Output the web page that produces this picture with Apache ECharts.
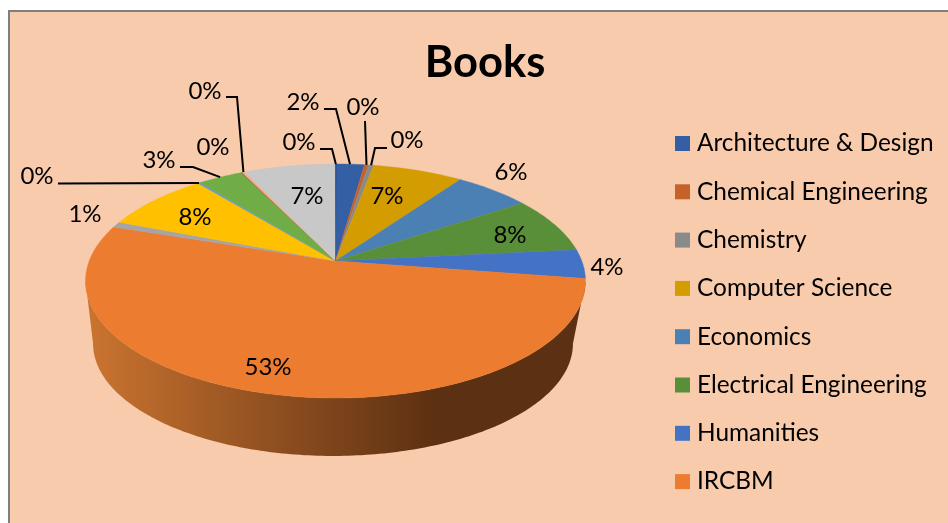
<!DOCTYPE html>
<html>
<head>
<meta charset="utf-8">
<title>Books</title>
<script src="https://cdn.jsdelivr.net/npm/echarts@6/dist/echarts.min.js"></script>
<style>
html, body { margin: 0; padding: 0; background: #fff; }
#chart { width: 948px; height: 523px; }
</style>
</head>
<body>
<div id="chart"></div>
<script>
// only the first 8 categories are visible in the legend, the rest are cut off in the picture
const legendNames = ['Architecture & Design', 'Chemical Engineering', 'Chemistry', 'Computer Science',
  'Economics', 'Electrical Engineering', 'Humanities', 'IRCBM'];
const sliceNames = legendNames.concat(['slice 9', 'slice 10', 'slice 11', 'slice 12', 'slice 13', 'slice 14', 'slice 15', 'slice 16']);
// share of books in percent, clockwise from 12 o'clock
const bookShares = [2.2, 0.3, 0.4, 6.9, 5.8, 7.8, 4.0, 52.7, 0.8, 8.2, 0.2, 3.4, 0.1, 0.2, 7.0, 0.05];
const sliceColors = ['#355FA5', '#C5622A', '#8A8A8A', '#D39C00', '#4A80B4', '#5A8F3A', '#4472C4', '#EC7C30',
  '#A5A5A5', '#FFC000', '#5B9BD5', '#70AD47', '#9E6A3A', '#F0B090', '#C8C8C8', '#264478'];

// label centre, then the leader line points before it reaches the rim
const labelLayout = [
  { at: [303, 102], leader: [[324, 109], [336, 109]] },
  { at: [363, 107], leader: [[365, 121]] },
  { at: [407, 140], leader: [[387, 148], [375, 148]] },
  { at: [387, 196] },
  { at: [511, 172] },
  { at: [510, 235] },
  { at: [607, 267] },
  { at: [268, 367] },
  { at: [85, 214] },
  { at: [195, 217] },
  { at: [37, 176], leader: [[58, 183.5]] },
  { at: [159, 160], leader: [[180, 167], [193, 167]] },
  { at: [213, 147] },
  { at: [205, 91], leader: [[226, 97], [237, 97]] },
  { at: [307, 196] },
  { at: [299, 142], leader: [[320, 149], [332, 149]] },
];

// the pie is a circle seen in perspective, so its centre is above the middle of the ellipse
const tilt = 0.1708;
const topRim = { cx: 335.5, cy: 261, a: 246.3, b: 113.6 };
const bottomRim = { cx: 333, cy: 324.5, a: 236.4, b: 109 };
const fontName = 'Lato';
// where the rim turns away from the viewer, the side wall runs between these two
const wallStart = Math.acos(-tilt) / (Math.PI * 2) * 100;
const wallEnd = 100 - wallStart;

function rimPoint(pct, rim) {
  const th = pct / 100 * Math.PI * 2;
  const w = 1 + tilt * Math.cos(th);
  return [rim.cx + rim.a * Math.sin(th) / w, rim.cy - rim.b * Math.cos(th) / w];
}

function arcPoints(from, to, rim) {
  const pts = [];
  const steps = Math.max(2, Math.ceil((to - from) * 4));
  for (let i = 0; i <= steps; i++) {
    pts.push(rimPoint(from + (to - from) * i / steps, rim));
  }
  return pts;
}

let total = 0;
const sliceRanges = bookShares.map((v) => {
  const range = [total, total + v];
  total += v;
  return range;
});

const biggest = bookShares.indexOf(Math.max(...bookShares));

const sliceSeries = sliceNames.map((name, i) => ({
  type: 'custom',
  name,
  coordinateSystem: 'none',
  z: 3,
  itemStyle: { color: sliceColors[i] },
  data: [sliceRanges[i]],
  renderItem(params, api) {
    const pts = [[topRim.cx, topRim.cy]].concat(arcPoints(api.value(0), api.value(1), topRim));
    return {
      type: 'polygon',
      shape: { points: pts },
      style: { fill: sliceColors[i], stroke: sliceColors[i], lineWidth: 0.4 },
    };
  },
}));

const option = {
  animation: false,
  backgroundColor: '#fff',
  graphic: [{
    type: 'rect',
    z: -1,
    silent: true,
    shape: { x: 9, y: 11, width: 960, height: 540 },
    style: { fill: '#F8CBAD', stroke: '#7F7F7F', lineWidth: 2 },
  }],
  title: {
    text: 'Books',
    left: 480,
    top: 36,
    textAlign: 'center',
    textStyle: { fontFamily: fontName, fontWeight: 'bold', fontSize: 43.5, color: '#000' },
  },
  legend: {
    orient: 'vertical',
    left: 670,
    top: 124,
    data: legendNames,
    icon: 'rect',
    itemWidth: 15,
    itemHeight: 15,
    itemGap: 19.3,
    selectedMode: false,
    textStyle: { fontFamily: fontName, fontSize: 24.4, color: '#000', lineHeight: 29, padding: [0, 0, 0, 2] },
  },
  series: [
    {
      type: 'custom',
      name: 'wall',
      coordinateSystem: 'none',
      z: 2,
      data: [sliceRanges[biggest]],
      renderItem(params, api) {
        const from = Math.max(api.value(0), wallStart);
        const to = Math.min(api.value(1), wallEnd);
        const pts = arcPoints(from, to, topRim).concat(arcPoints(from, to, bottomRim).reverse());
        return {
          type: 'polygon',
          shape: { points: pts },
          style: {
            fill: new echarts.graphic.LinearGradient(0, 0, 1, 0, [
              { offset: 0, color: '#CB7430' },
              { offset: 0.7, color: '#5C3012' },
              { offset: 1, color: '#5C3012' },
            ]),
          },
        };
      },
    },
  ].concat(sliceSeries, [
    {
      type: 'custom',
      name: 'labels',
      coordinateSystem: 'none',
      z: 5,
      data: bookShares.map((v, i) => [v, sliceRanges[i][0], sliceRanges[i][1]]),
      renderItem(params, api) {
        const layout = labelLayout[params.dataIndex];
        const children = [{
          type: 'text',
          style: {
            x: layout.at[0],
            y: layout.at[1],
            text: Math.round(api.value(0)) + '%',
            fill: '#000',
            font: '24px ' + fontName,
            align: 'center',
            verticalAlign: 'middle',
          },
        }];
        if (layout.leader) {
          const end = rimPoint((api.value(1) + api.value(2)) / 2, topRim);
          children.push({
            type: 'polyline',
            shape: { points: layout.leader.concat([end]) },
            style: { fill: 'none', stroke: '#000', lineWidth: 2 },
          });
        }
        return { type: 'group', children };
      },
    },
  ]),
};

const myChart = echarts.init(document.getElementById('chart'), null, { renderer: 'canvas' });
myChart.setOption(option);
</script>
</body>
</html>
